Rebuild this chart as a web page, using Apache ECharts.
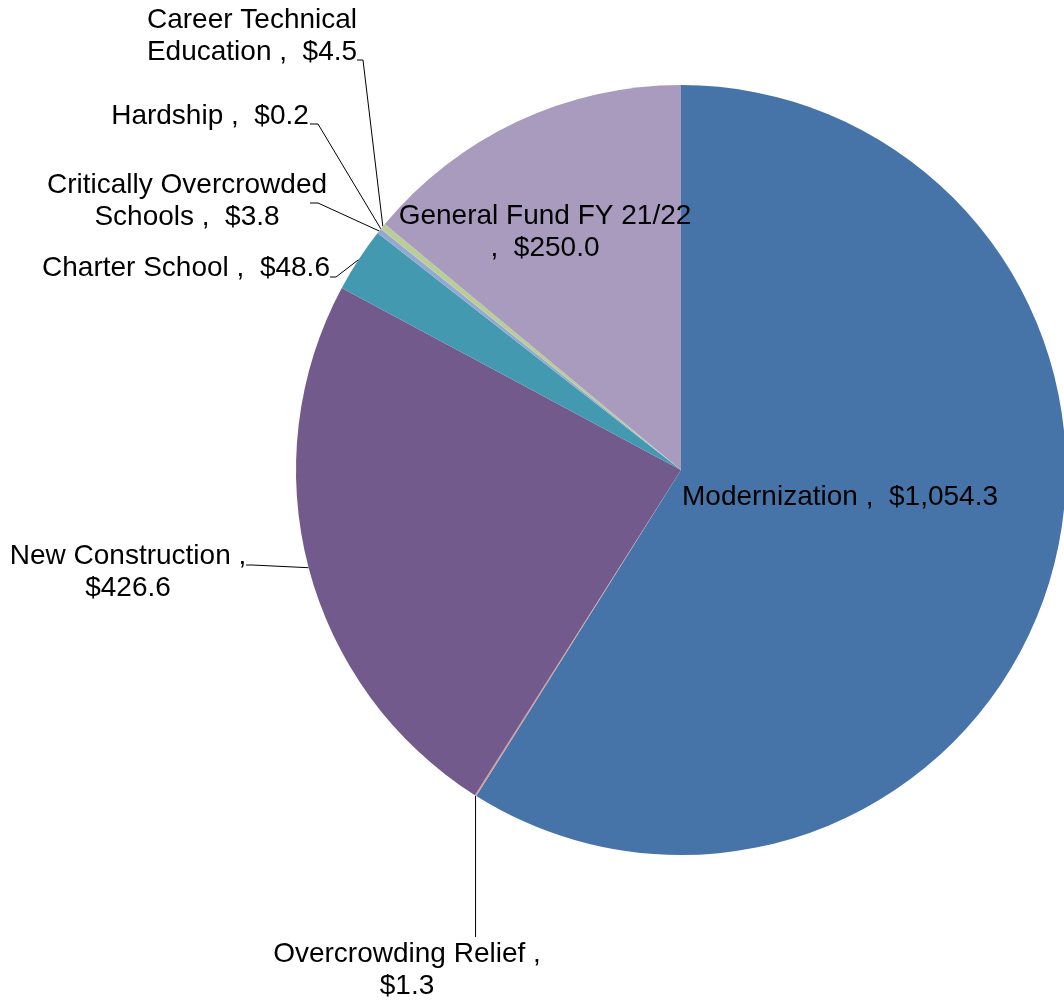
<!DOCTYPE html>
<html>
<head>
    <meta charset="utf-8">
    <title>Pie</title>
    <script src="https://cdn.jsdelivr.net/npm/echarts@6/dist/echarts.min.js"></script>
</head>
<body style="margin:0;background:#fff">
<div id="main" style="width:1064px;height:1002px;"></div>
<script type="text/javascript">
    // data
    var names = ['Modernization', 'Overcrowding Relief', 'New Construction', 'Charter School',
        'Critically Overcrowded Schools', 'Hardship', 'Career Technical Education', 'General Fund FY 21/22'];
    var values = [1054.3, 1.3, 426.6, 48.6, 3.8, 0.2, 4.5, 250.0];
    var labelTexts = [
        'Modernization ,  $1,054.3',
        'Overcrowding Relief ,\n$1.3',
        'New Construction ,\n$426.6',
        'Charter School ,  $48.6',
        'Critically Overcrowded\nSchools ,  $3.8',
        'Hardship ,  $0.2',
        'Career Technical\nEducation ,  $4.5',
        'General Fund FY 21/22\n,  $250.0'
    ];
    var colors = ['#4674A8', '#D49A9A', '#725A8D', '#4399B0', '#93A9CF', '#C9A0A0', '#B9CD96', '#A99BBE'];
    var inside = [true, false, false, false, false, false, false, true];

    // label layout (centre of text block, then elbow and end of leader line)
    var labelPos = [[840, 497], [407, 970], [128, 572], [186, 268], [187, 201], [210, 116], [252, 36], [545, 232]];
    var lineElbow = [null, null, [252, 565], [336, 277], [318, 203], [318, 124], [363, 60], null];
    var lineEnd = [null, null, [246, 565], [330, 277], [310, 203], [310, 124], [357, 60], null];

    var myChart = echarts.init(document.getElementById('main'));

    var seriesData = names.map(function (n, i) {
        return {
            name: n,
            value: values[i],
            itemStyle: {color: colors[i]},
            label: {position: inside[i] ? 'inside' : 'outside'},
            labelLine: {show: !inside[i]}
        };
    });

    var option = {
        animation: false,
        series: [{
            type: 'pie',
            center: [681, 470],
            radius: 385,
            startAngle: 90,
            clockwise: true,
            avoidLabelOverlap: false,
            data: seriesData,
            itemStyle: {borderWidth: 0},
            label: {
                formatter: function (p) { return labelTexts[p.dataIndex]; },
                fontFamily: 'Liberation Sans, Arial, sans-serif',
                fontSize: 28,
                lineHeight: 32,
                color: '#000',
                align: 'center'
            },
            labelLine: {
                lineStyle: {color: '#000', width: 1},
                length: 10,
                length2: 10
            },
            labelLayout: function (params) {
                var i = params.dataIndex;
                var res = {x: labelPos[i][0], y: labelPos[i][1], align: 'center', verticalAlign: 'middle'};
                if (!inside[i] && params.labelLinePoints) {
                    var p0 = params.labelLinePoints[0];
                    if (i === 1) {
                        res.labelLinePoints = [p0, [p0[0], 937], [p0[0], 937]];
                    } else {
                        res.labelLinePoints = [p0, lineElbow[i], lineEnd[i]];
                    }
                }
                return res;
            }
        }]
    };

    myChart.setOption(option);
</script>
</body>
</html>
